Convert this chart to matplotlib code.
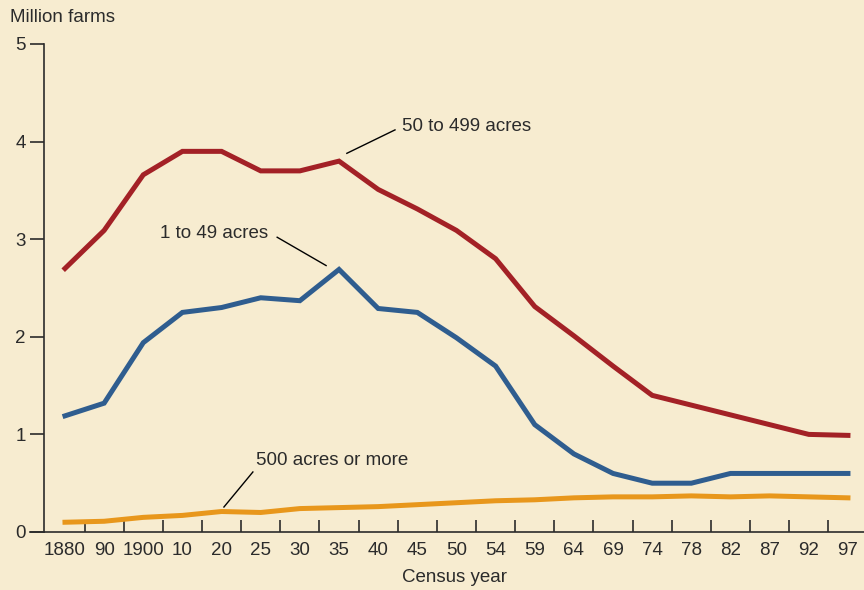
import numpy as np
import matplotlib
matplotlib.use('Agg')
import matplotlib.pyplot as plt

plt.rcParams['font.family'] = ['Liberation Sans', 'DejaVu Sans']

years = ['1880', '90', '1900', '10', '20', '25', '30', '35', '40', '45', '50',
         '54', '59', '64', '69', '74', '78', '82', '87', '92', '97']
mid_farms   = [2.70, 3.09, 3.66, 3.90, 3.90, 3.70, 3.70, 3.80, 3.51, 3.31, 3.09,
               2.80, 2.31, 2.01, 1.70, 1.40, 1.30, 1.20, 1.10, 1.00, 0.99]
small_farms = [1.19, 1.32, 1.94, 2.25, 2.30, 2.40, 2.37, 2.69, 2.29, 2.25, 1.99,
               1.70, 1.10, 0.80, 0.60, 0.50, 0.50, 0.60, 0.60, 0.60, 0.60]
large_farms = [0.10, 0.11, 0.15, 0.17, 0.21, 0.20, 0.24, 0.25, 0.26, 0.28, 0.30,
               0.32, 0.33, 0.35, 0.36, 0.36, 0.37, 0.36, 0.37, 0.36, 0.35]

bg     = '#F7ECD0'
red    = '#A32126'
blue   = '#2F5D8F'
orange = '#E8971C'
ink    = '#2b2b2b'
fs     = 13.5

fig = plt.figure(figsize=(8.64, 5.9), dpi=100, facecolor=bg)
ax = fig.add_axes([44/864, 1-532/590, 1-44/864, (532-44)/590], facecolor=bg)

x = np.arange(len(years))
ax.plot(x, mid_farms, color=red, lw=3.6, solid_joinstyle='miter', zorder=3)
ax.plot(x, small_farms, color=blue, lw=3.6, solid_joinstyle='miter', zorder=3)
ax.plot(x, large_farms, color=orange, lw=3.6, solid_joinstyle='miter', zorder=3)

ax.set_xlim(-0.536, 20.41)
ax.set_ylim(0, 5)

for s in ['top', 'right']:
    ax.spines[s].set_visible(False)
for s in ['left', 'bottom']:
    ax.spines[s].set_color(ink)
    ax.spines[s].set_linewidth(1.2)

ax.set_yticks(range(6))
ax.tick_params(axis='y', direction='out', length=10, width=1.2, color=ink,
               labelsize=fs, labelcolor=ink, pad=3)
ax.set_xticks(x)
ax.set_xticklabels(years)
ax.tick_params(axis='x', which='major', length=0, labelsize=fs, labelcolor=ink, pad=7)
ax.set_xticks(x[:-1] + 0.5, minor=True)
ax.tick_params(axis='x', which='minor', direction='in', length=9, width=1.2, color=ink)

# baseline runs out to the left like the 0 tick
ax.plot([-0.9, -0.536], [0, 0], color=ink, lw=1.2, clip_on=False)

fig.text(10/864, 1-18/590, 'Million farms', fontsize=fs, color=ink, va='center', ha='left')
fig.text(455/864, 1-577/590, 'Census year', fontsize=fs, color=ink, va='center', ha='center')

# labels with leader lines
ax.plot([7.20, 8.43], [3.88, 4.12], color='black', lw=1)
ax.text(8.61, 4.15, '50 to 499 acres', fontsize=fs, color=ink, va='center', ha='left')
ax.plot([5.42, 6.67], [3.02, 2.73], color='black', lw=1)
ax.text(5.19, 3.06, '1 to 49 acres', fontsize=fs, color=ink, va='center', ha='right')
ax.plot([4.06, 4.80], [0.256, 0.615], color='black', lw=1)
ax.text(4.88, 0.73, '500 acres or more', fontsize=fs, color=ink, va='center', ha='left')

fig.savefig('out.png', dpi=100, facecolor=bg)
